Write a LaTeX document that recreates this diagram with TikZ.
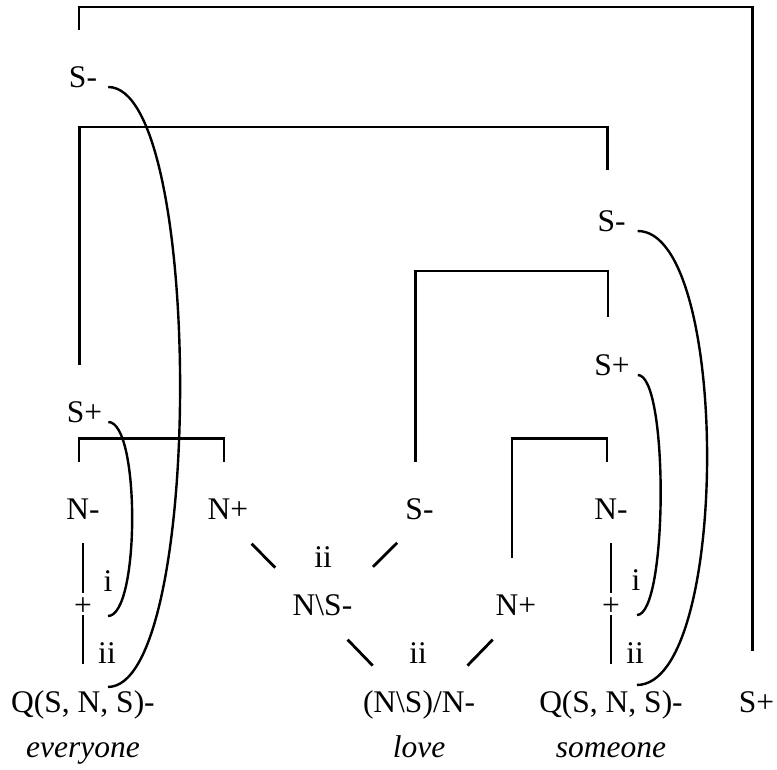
\documentclass[tikz,border=0pt]{standalone}
\usepackage{fontspec}
\setmainfont{Liberation Serif}
\usetikzlibrary{calc}

\begin{document}
\begin{tikzpicture}[x=1pt, y=-1pt,
  every node/.style={inner sep=0pt, anchor=base, font=\fontsize{31.5}{38}\selectfont},
  word/.style={font=\fontsize{31.5}{38}\selectfont\itshape},
  bar/.style={line width=2.8pt},
  arc/.style={line width=2.4pt}
]
\useasboundingbox (0,0) rectangle (777,769);

% everyone
\node (sTopL) at (83,87) {S-};
\node (sPlusL) at (84.5,422) {S+};
\node (nL) at (83,519) {N-};
\node (nPlusL) at (228,519) {N+};
\node[anchor=center] (plusL) at (83,607) {+};
\node (iL) at (108,591) {i};
\node (iiL) at (107,663) {ii};
\node (qL) at (83,712) {Q(S, N, S)-};
\node[word] (wEvery) at (83,757) {everyone};

% love
\node (sMinM) at (419.5,519) {S-};
\node (iiUp) at (323,567) {ii};
\node (nbs) at (322.5,615) {N\textbackslash S-};
\node (nPlusM) at (516,615) {N+};
\node (iiLow) at (418,663) {ii};
\node (nsn) at (419,712) {(N\textbackslash S)/N-};
\node[word] (wLove) at (419,757) {love};

% someone
\node (sMinR) at (611.5,231) {S-};
\node (sPlusR) at (612,375) {S+};
\node (nR) at (611,519) {N-};
\node[anchor=center] (plusR) at (611,607) {+};
\node (iR) at (636,590) {i};
\node (iiR) at (635,663) {ii};
\node (qR) at (611,712) {Q(S, N, S)-};
\node[word] (wSome) at (611,757) {someone};
\node (sEnd) at (756.5,712) {S+};

% Brackets
\draw[bar] ([xshift=-4pt,yshift=36pt]sTopL.north) -- ++(0,-23) -| ([xshift=-4pt,yshift=40pt]sEnd.north);
\draw[bar] ([xshift=-5pt,yshift=36pt]sPlusL.north) -- ++(0,-238) -| ([xshift=-4pt,yshift=40pt]sMinR.north);
\draw[bar] ([xshift=-4pt,yshift=36pt]sMinM.north) -- ++(0,-191) -| ([xshift=-4pt,yshift=37pt]sPlusR.north);
\draw[bar] ([xshift=-4pt,yshift=36pt]nL.north) -- ++(0,-24) -| ([xshift=-4pt,yshift=36pt]nPlusL.north);
\draw[bar] ([xshift=-4pt,yshift=36pt]nPlusM.north) -- ++(0,-120) -| ([xshift=-4pt,yshift=36pt]nR.north);

% Vertical links through the plus signs
\draw[bar] ([yshift=-24pt]nL.south) -- ([yshift=14pt]plusL.center);
\draw[bar] ([yshift=-8pt]plusL.center) -- ([yshift=26pt]qL.north);
\draw[bar] ([yshift=-24pt]nR.south) -- ([yshift=14pt]plusR.center);
\draw[bar] ([yshift=-8pt]plusR.center) -- ([yshift=26pt]qR.north);

% Diagonal links
\draw[bar] ($(nPlusL)!0.25!(nbs)+(0,11)$) -- ($(nPlusL)!0.5!(nbs)+(0,11)$);
\draw[bar] ($(sMinM)!0.23!(nbs)+(0,12)$) -- ($(sMinM)!0.48!(nbs)+(0,12)$);
\draw[bar] ($(nbs)!0.26!(nsn)+(0,9)$) -- ($(nbs)!0.52!(nsn)+(0,9)$);
\draw[bar] ($(nPlusM)!0.24!(nsn)+(0,11)$) -- ($(nPlusM)!0.5!(nsn)+(0,11)$);

% Arcs
\draw[arc] ([xshift=11pt]sTopL.base east) .. controls +(96,0) and +(96,0) .. ([xshift=25pt,yshift=3pt]qL.north);
\draw[arc] ([xshift=6pt]sPlusL.base east) .. controls +(32,0) and +(32,0) .. ([xshift=25pt,yshift=-9pt]plusL.center);
\draw[arc] ([xshift=12pt]sMinR.base east) .. controls +(93,0) and +(93,0) .. ([xshift=26pt,yshift=5pt]qR.north);
\draw[arc] ([xshift=8pt]sPlusR.base east) .. controls +(31,0) and +(31,0) .. ([xshift=26pt,yshift=-8pt]plusR.center);
\end{tikzpicture}
\end{document}
